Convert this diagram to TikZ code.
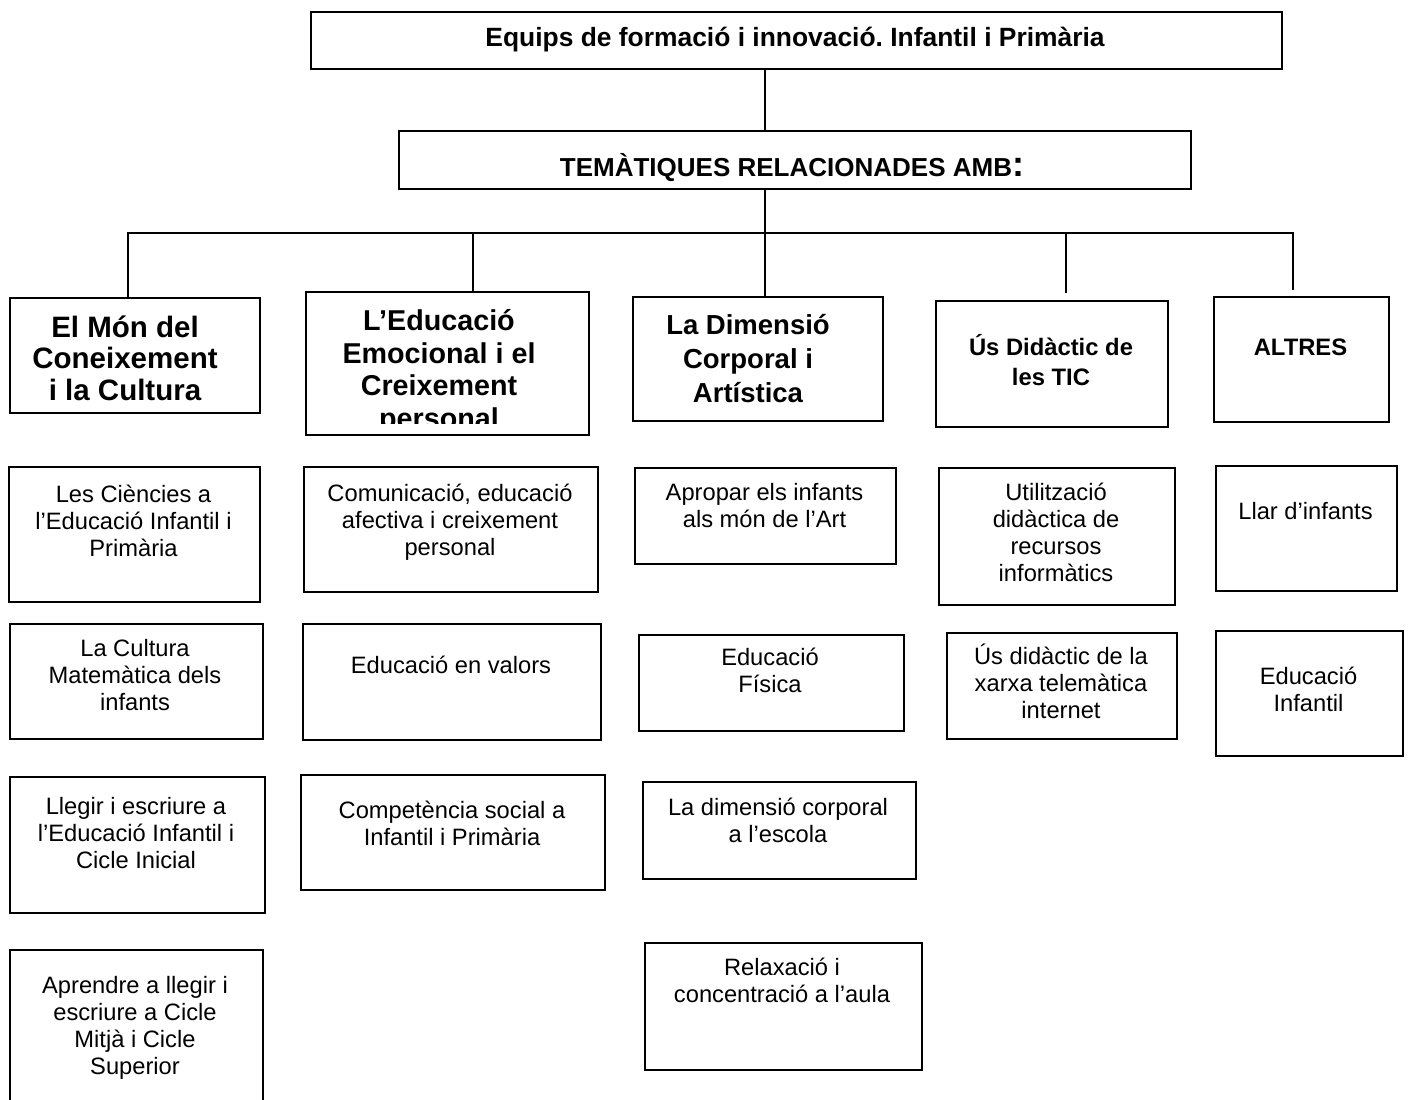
\documentclass[tikz,border=0pt]{standalone}
\usepackage{fontspec}
\setmainfont{Liberation Sans}
\usepackage{tikz}
\usetikzlibrary{positioning}
\frenchspacing

\newcommand{\px}{0.5pt}
\newcommand{\substrut}{\rule{0pt}{12pt}}
\newcommand{\headstrut}{\rule{0pt}{16pt}}

\tikzset{
    box/.style={draw,line width=0.8pt,inner sep=0pt,anchor=north west},
    link/.style={line width=0.8pt},
    subtext/.style={font=\fontsize{11.85}{13.5}\selectfont,align=center,inner sep=0pt,anchor=north,yshift=12pt},
    headtext/.style={align=center,inner sep=0pt,anchor=north,yshift=16pt}
}

\begin{document}
\begin{tikzpicture}[x=0.5pt,y=-0.5pt]
    \useasboundingbox (0,0) rectangle (1408,1099);

    % titles
    \node[box,minimum width=971*\px,minimum height=57*\px] (top) at (310,11) {};
    \node[headtext,font=\bfseries\fontsize{13.2}{15}\selectfont] (top-t) at (795,46) {\headstrut Equips de formació i innovació. Infantil i Primària};
    \node[box,minimum width=792*\px,minimum height=58*\px] (tema) at (398,130) {};
    \node[headtext,font=\bfseries\fontsize{13}{15}\selectfont] (tema-t) at (792,176) {\headstrut TEMÀTIQUES RELACIONADES AMB{\fontsize{18}{18}\selectfont:}};

    % five themes
    \node[box,minimum width=250*\px,minimum height=115*\px] (c1) at (9,297) {};
    \node[headtext,font=\bfseries\fontsize{14.75}{15.75}\selectfont] (c1-t) at (125,337) {\headstrut El Món del\\Coneixement\\i la Cultura};
    \node[box,minimum width=283*\px,minimum height=143*\px] (c2) at (305,291) {};
    \begin{scope}
        \clip (305,291) rectangle (588,423);
        \node[headtext,font=\bfseries\fontsize{14.35}{16.3}\selectfont] (c2-t) at (439,330) {\headstrut L’Educació\\Emocional i el\\Creixement\\personal};
    \end{scope}
    \node[box,minimum width=250*\px,minimum height=124*\px] (c3) at (632,296) {};
    \node[headtext,font=\bfseries\fontsize{13.75}{17}\selectfont] (c3-t) at (748,334) {\headstrut La Dimensió\\Corporal i\\Artística};
    \node[box,minimum width=232*\px,minimum height=126*\px] (c4) at (935,300) {};
    \node[headtext,font=\bfseries\fontsize{11.9}{15}\selectfont] (c4-t) at (1051,355) {\headstrut Ús Didàctic de\\les TIC};
    \node[box,minimum width=175*\px,minimum height=125*\px] (c5) at (1213,296) {};
    \node[headtext,font=\bfseries\fontsize{11.9}{15}\selectfont] (c5-t) at (1300.5,355) {\headstrut ALTRES};

    % connectors
    \coordinate (spine) at (765,0);
    \coordinate (b1) at (128,233);
    \coordinate (b2) at (473,233);
    \coordinate (b3) at (765,233);
    \coordinate (b4) at (1066,233);
    \coordinate (b5) at (1293,233);
    \coordinate (e4) at (1066,293);
    \coordinate (e5) at (1293,290);
    \draw[link] (top.south -| spine) -- (tema.north -| spine);
    \draw[link] (tema.south -| spine) -- (b3);
    \draw[link] (b1 |- c1.north) -- (b1) -- (b5) -- (e5);
    \draw[link] (b2) -- (b2 |- c2.north);
    \draw[link] (b3) -- (b3 |- c3.north);
    \draw[link] (b4) -- (e4);

    % column 1
    \node[box,minimum width=251*\px,minimum height=135*\px] (c1a) at (8,466) {};
    \node[subtext] (c1a-t) at (133.5,502) {\substrut Les Ciències a\\l’Educació Infantil i\\Primària};
    \node[box,minimum width=253*\px,minimum height=115*\px] (c1b) at (9,623) {};
    \node[subtext] (c1b-t) at (135,656) {\substrut La Cultura\\Matemàtica dels\\infants};
    \node[box,minimum width=255*\px,minimum height=136*\px] (c1c) at (9,776) {};
    \node[subtext] (c1c-t) at (136,814) {\substrut Llegir i escriure a\\l’Educació Infantil i\\Cicle Inicial};
    \node[box,minimum width=253*\px,minimum height=160*\px] (c1d) at (9,949) {};
    \node[subtext] (c1d-t) at (135,993) {\substrut Aprendre a llegir i\\escriure a Cicle\\Mitjà i Cicle\\Superior};

    % column 2
    \node[box,minimum width=294*\px,minimum height=125*\px] (c2a) at (303,466) {};
    \node[subtext] (c2a-t) at (450,501) {\substrut Comunicació, educació\\afectiva i creixement\\personal};
    \node[box,minimum width=298*\px,minimum height=116*\px] (c2b) at (302,623) {};
    \node[subtext] (c2b-t) at (451,673) {\substrut Educació en valors};
    \node[box,minimum width=304*\px,minimum height=115*\px] (c2c) at (300,774) {};
    \node[subtext] (c2c-t) at (452,818) {\substrut Competència social a\\Infantil i Primària};

    % column 3
    \node[box,minimum width=261*\px,minimum height=96*\px] (c3a) at (634,467) {};
    \node[subtext] (c3a-t) at (764.5,500) {\substrut Apropar els infants\\als món de l’Art};
    \node[box,minimum width=265*\px,minimum height=96*\px] (c3b) at (638,634) {};
    \node[subtext] (c3b-t) at (770,665.5) {\substrut Educació\\Física};
    \node[box,minimum width=273*\px,minimum height=97*\px] (c3c) at (642,781) {};
    \node[subtext] (c3c-t) at (778,815) {\substrut La dimensió corporal\\a l’escola};
    \node[box,minimum width=277*\px,minimum height=127*\px] (c3d) at (644,942) {};
    \node[subtext] (c3d-t) at (782,975) {\substrut Relaxació i\\concentració a l’aula};

    % column 4
    \node[box,minimum width=236*\px,minimum height=137*\px] (c4a) at (938,467) {};
    \node[subtext] (c4a-t) at (1056,500) {\substrut Utilització\\didàctica de\\recursos\\informàtics};
    \node[box,minimum width=230*\px,minimum height=106*\px] (c4b) at (946,632) {};
    \node[subtext] (c4b-t) at (1061,664) {\substrut Ús didàctic de la\\xarxa telemàtica\\internet};

    % column 5
    \node[box,minimum width=181*\px,minimum height=125*\px] (c5a) at (1215,465) {};
    \node[subtext] (c5a-t) at (1305.5,519) {\substrut Llar d’infants};
    \node[box,minimum width=187*\px,minimum height=125*\px] (c5b) at (1215,630) {};
    \node[subtext] (c5b-t) at (1308.5,684) {\substrut Educació\\Infantil};
\end{tikzpicture}
\end{document}
